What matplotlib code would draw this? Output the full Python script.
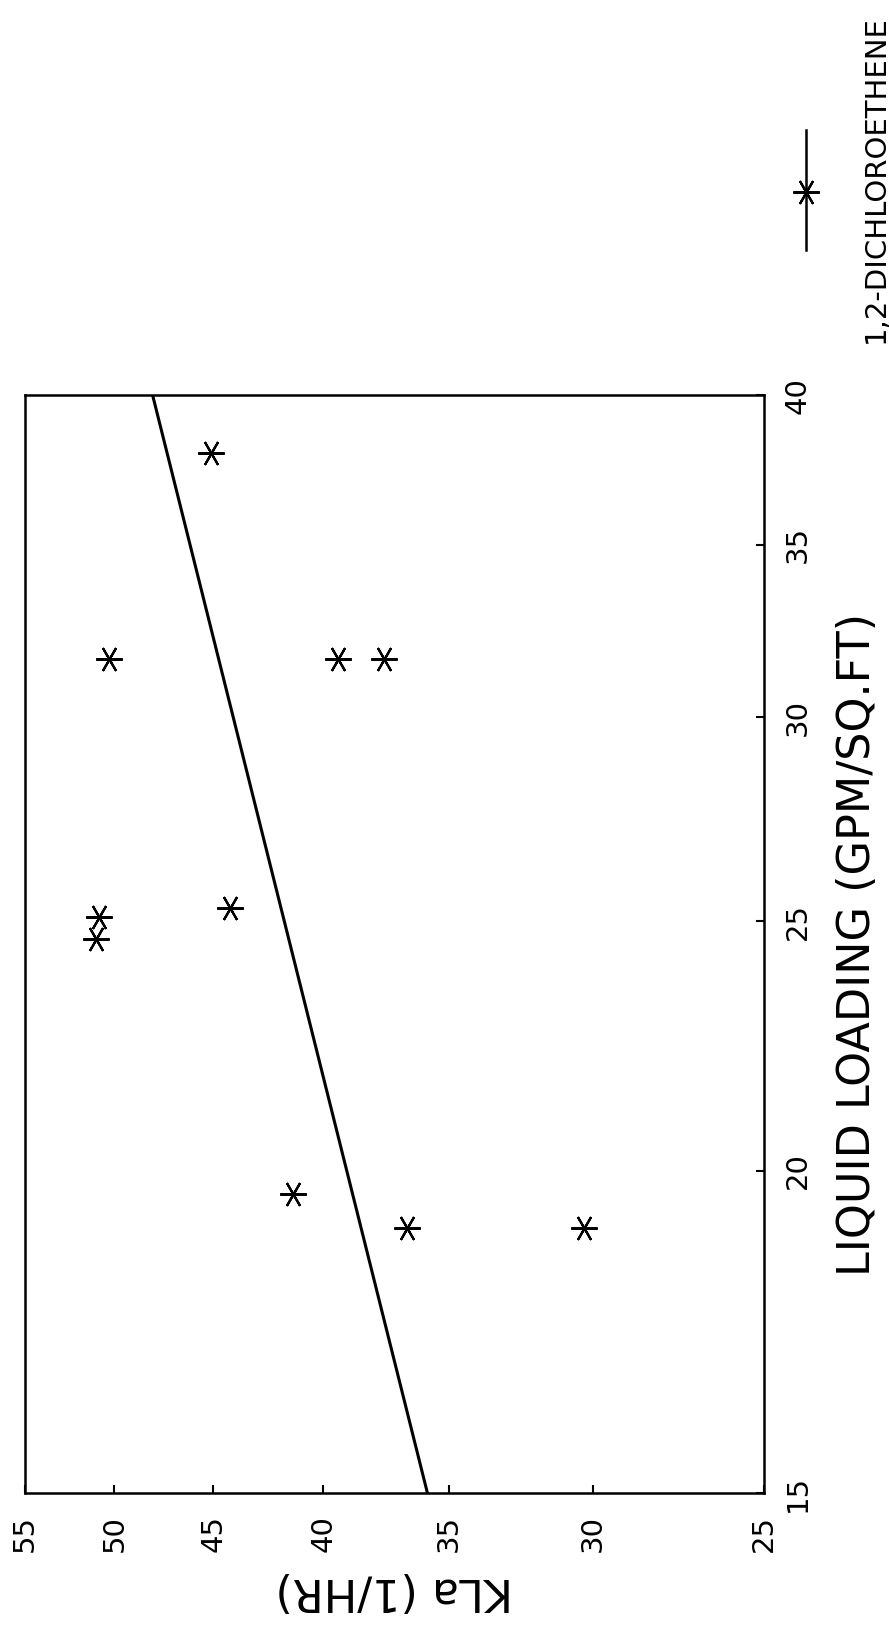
"""KLa vs liquid loading for 1,2-dichloroethene (log-log, page rotated 90 degrees)."""
import matplotlib
matplotlib.use("Agg")
import matplotlib.pyplot as plt
from matplotlib.lines import Line2D
from matplotlib.ticker import FixedLocator, NullLocator

# data
loading = [38.0, 31.6, 31.6, 31.6, 25.1, 24.6, 25.3, 19.6, 19.0, 19.0]
kla = [45.1, 50.3, 39.4, 37.5, 50.8, 51.0, 44.2, 41.3, 36.6, 30.3]

# fitted power-law line (end points)
fit_loading = [15, 40]
fit_kla = [35.8, 48.0]

loading_ticks = [15, 20, 25, 30, 35, 40]
kla_ticks = [25, 30, 35, 40, 45, 50, 55]

STAR = (6, 2, 90)

plt.rcParams["font.family"] = ["DejaVu Sans"]

fig = plt.figure(figsize=(8.9, 16.3), dpi=100)
# the page is turned: KLa runs along the bottom (right to left),
# liquid loading runs up the right-hand side
ax = fig.add_axes([0.0281, 0.0840, 0.8303, 0.6736])

ax.plot(fit_kla, fit_loading, color="black", lw=2.2)
ax.plot(kla, loading, linestyle="none", marker=STAR, markersize=19,
        markeredgewidth=1.6, color="black")

ax.set_xscale("log")
ax.set_yscale("log")
ax.set_xlim(55, 25)
ax.set_ylim(15, 40)

ax.xaxis.set_major_locator(FixedLocator(kla_ticks))
ax.xaxis.set_minor_locator(NullLocator())
ax.set_xticklabels([str(t) for t in kla_ticks], rotation=90)
ax.yaxis.set_major_locator(FixedLocator(loading_ticks))
ax.yaxis.set_minor_locator(NullLocator())
ax.yaxis.tick_right()
ax.set_yticklabels([str(t) for t in loading_ticks], rotation=90, va="center")

ax.tick_params(axis="both", direction="in", length=6, width=1.5,
               labelsize=21, color="black")
ax.tick_params(axis="x", pad=16)
ax.tick_params(axis="y", pad=14)

for sp in ax.spines.values():
    sp.set_linewidth(1.8)

ax.set_xlabel("KLa (1/HR)", fontsize=32, rotation=180, labelpad=12)
ax.yaxis.set_label_position("right")
ax.set_ylabel("LIQUID LOADING (GPM/SQ.FT)", fontsize=32, rotation=90,
              labelpad=18)

# legend drawn by hand, turned with the page
fig.add_artist(Line2D([806 / 890, 806 / 890], [1 - 130 / 1630, 1 - 250 / 1630],
                      transform=fig.transFigure, color="black", lw=1.8))
fig.add_artist(Line2D([806 / 890], [1 - 192 / 1630], transform=fig.transFigure,
                      marker=STAR, markersize=19, markeredgewidth=1.6,
                      color="black", linestyle="none"))
fig.text(876 / 890, 1 - 343 / 1630, "1,2-DICHLOROETHENE", rotation=90,
         ha="center", va="bottom", fontsize=21)

fig.savefig("out.png", dpi=100)
